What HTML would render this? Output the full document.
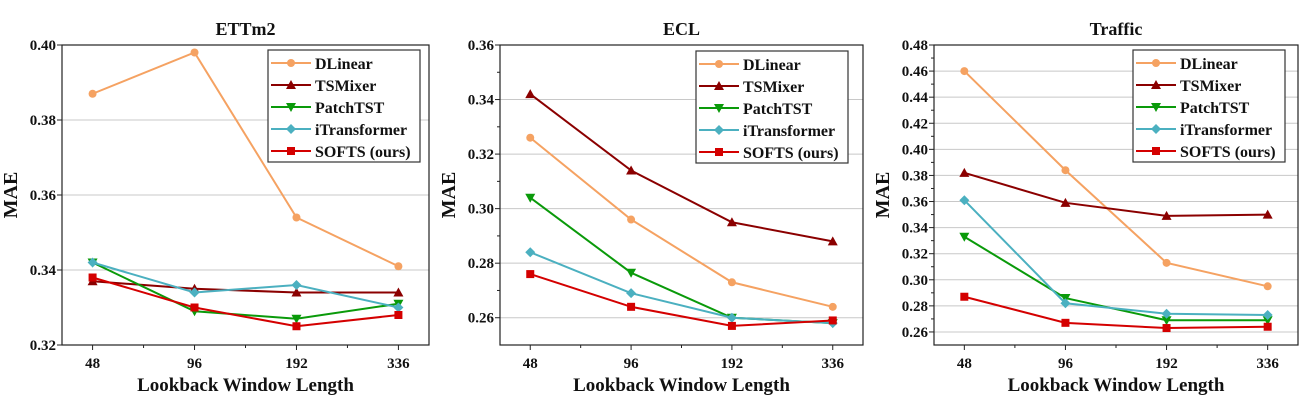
<!DOCTYPE html>
<html><head><meta charset="utf-8"><style>
body{margin:0;background:#fff;}
svg{display:block;}
text{font-family:"Liberation Serif","DejaVu Serif",serif;font-weight:bold;}
</style></head><body>
<svg id="c" width="1306" height="406" viewBox="0 0 1306 406"></svg>
<script>
const categories=["48","96","192","336"];
const seriesNames=["DLinear","TSMixer","PatchTST","iTransformer","SOFTS (ours)"];
const ettm2DLinear=[0.387,0.398,0.354,0.341];
const ettm2TSMixer=[0.337,0.335,0.334,0.334];
const ettm2PatchTST=[0.342,0.329,0.327,0.331];
const ettm2ITrans=[0.342,0.334,0.336,0.330];
const ettm2SOFTS=[0.338,0.330,0.325,0.328];
const eclDLinear=[0.326,0.296,0.273,0.264];
const eclTSMixer=[0.342,0.314,0.295,0.288];
const eclPatchTST=[0.304,0.2765,0.260,0.258];
const eclITrans=[0.284,0.269,0.260,0.258];
const eclSOFTS=[0.276,0.264,0.257,0.259];
const trafficDLinear=[0.460,0.384,0.313,0.295];
const trafficTSMixer=[0.382,0.359,0.349,0.350];
const trafficPatchTST=[0.333,0.286,0.269,0.269];
const trafficITrans=[0.361,0.282,0.274,0.273];
const trafficSOFTS=[0.287,0.267,0.263,0.264];
const ettm2Ticks=[0.32,0.34,0.36,0.38,0.40];
const eclTicks=[0.26,0.28,0.30,0.32,0.34,0.36];
const trafficTicks=[0.26,0.28,0.30,0.32,0.34,0.36,0.38,0.40,0.42,0.44,0.46,0.48];

const colors=["#F5A262","#8B0000","#0A9A0A","#4BB0C0","#D40000"];
const markers=["circle","tri","tridown","diamond","square"];
const NS="http://www.w3.org/2000/svg";
const FONT='"Liberation Serif", "DejaVu Serif", serif';
const svg=document.getElementById('c');
function mk(tag,attrs,parent,text){const e=document.createElementNS(NS,tag);for(const k in attrs)e.setAttribute(k,attrs[k]);if(tag==='text'){e.setAttribute('font-family',FONT);e.setAttribute('font-weight','bold');}if(text!==undefined)e.textContent=text;(parent||svg).appendChild(e);return e;}

const panels=[
 {name:"ettm2",title:"ETTm2",L:62,R:429,T:45,B:345,ymin:0.32,ymax:0.40,ticks:ettm2Ticks,minor:false,data:[ettm2DLinear,ettm2TSMixer,ettm2PatchTST,ettm2ITrans,ettm2SOFTS],leg:[268,50]},
 {name:"ecl",title:"ECL",L:500,R:863,T:45,B:345,ymin:0.25,ymax:0.36,ticks:eclTicks,minor:true,data:[eclDLinear,eclTSMixer,eclPatchTST,eclITrans,eclSOFTS],leg:[696,51]},
 {name:"traffic",title:"Traffic",L:934,R:1298,T:45,B:345,ymin:0.25,ymax:0.48,ticks:trafficTicks,minor:true,data:[trafficDLinear,trafficTSMixer,trafficPatchTST,trafficITrans,trafficSOFTS],leg:[1133,50]}
];

function marker(g,type,x,y,c){
 let e;
 if(type==="circle")e=mk('circle',{cx:x,cy:y,r:4,fill:c},g);
 else if(type==="tri")e=mk('polygon',{points:`${x},${y-5} ${x-5},${y+4} ${x+5},${y+4}`,fill:c},g);
 else if(type==="tridown")e=mk('polygon',{points:`${x},${y+5} ${x-5},${y-4} ${x+5},${y-4}`,fill:c},g);
 else if(type==="diamond")e=mk('polygon',{points:`${x},${y-5} ${x+5},${y} ${x},${y+5} ${x-5},${y}`,fill:c},g);
 else e=mk('rect',{x:x-4,y:y-4,width:8,height:8,fill:c},g);
 return e;
}

panels.forEach(p=>{
 const g=mk('g',{});
 
 
 const step=(p.R-p.L)/3.6;
 const xs=i=>p.L+step*(i+0.3);
 const ys=v=>p.B-(v-p.ymin)/(p.ymax-p.ymin)*(p.B-p.T);
 p.ticks.forEach(t=>{const y=ys(t);if(y>p.T+1&&y<p.B-1){const l=mk('line',{x1:p.L,x2:p.R,y1:y,y2:y,stroke:"#c8c8c8","stroke-width":1},g);}});
 const fr=mk('rect',{x:p.L,y:p.T,width:p.R-p.L,height:p.B-p.T,fill:"none",stroke:"#222","stroke-width":1.2},g);
 
 p.ticks.forEach(t=>{const y=ys(t);mk('line',{x1:p.L-5,x2:p.L,y1:y,y2:y,stroke:"#222"},g);
  const tx=mk('text',{x:p.L-6,y:y+5,"text-anchor":"end","font-size":15,fill:"#111"},g,t.toFixed(2));
  
  if(p.minor){const ym=ys(t+0.01);if(ym>p.T)mk('line',{x1:p.L-3,x2:p.L,y1:ym,y2:ym,stroke:"#222"},g);const yn=ys(t-0.01);if(yn<p.B&&t===p.ticks[0])mk('line',{x1:p.L-3,x2:p.L,y1:yn,y2:yn,stroke:"#222"},g);}
 });
 categories.forEach((c,i)=>{const x=xs(i);mk('line',{x1:x,x2:x,y1:p.B,y2:p.B+5,stroke:"#222"},g);
  if(i<3)mk('line',{x1:xs(i+0.5),x2:xs(i+0.5),y1:p.B,y2:p.B+3,stroke:"#222"},g);
  const tx=mk('text',{x:x,y:p.B+23,"text-anchor":"middle","font-size":15,fill:"#111"},g,c);
  });
 const tt=mk('text',{x:(p.L+p.R)/2,y:35,"text-anchor":"middle","font-size":18,fill:"#111"},g,p.title);
 
 const xt=mk('text',{x:(p.L+p.R)/2,y:391,"text-anchor":"middle","font-size":19,fill:"#111"},g,"Lookback Window Length");
 
 const yt=mk('text',{x:0,y:0,"text-anchor":"middle","font-size":20,fill:"#111",transform:`translate(${p.L-45},195) rotate(-90)`},g,"MAE");
 
 p.data.forEach((arr,si)=>{
  const sg=mk('g',{},g);
  
  
  const pts=arr.map((v,i)=>xs(i)+","+ys(v)).join(" ");
  mk('polyline',{points:pts,fill:"none",stroke:colors[si],"stroke-width":2},sg);
  arr.forEach((v,i)=>{const m=marker(sg,markers[si],xs(i),ys(v),colors[si]);});
 });
 const lg=mk('g',{},g);
 
 
 const [lx,ly]=p.leg;
 mk('rect',{x:lx,y:ly,width:152,height:112,fill:"#fff",stroke:"#333","stroke-width":1.2},lg);
 seriesNames.forEach((n,si)=>{
  const y=ly+13+si*22;
  const e=mk('g',{},lg);
  
  
  mk('line',{x1:lx+3,x2:lx+43,y1:y,y2:y,stroke:colors[si],"stroke-width":2},e);
  marker(e,markers[si],lx+23,y,colors[si]);
  mk('text',{x:lx+47,y:y+6,"font-size":16,fill:"#111"},e,n);
 });
});
</script>
</body></html>
